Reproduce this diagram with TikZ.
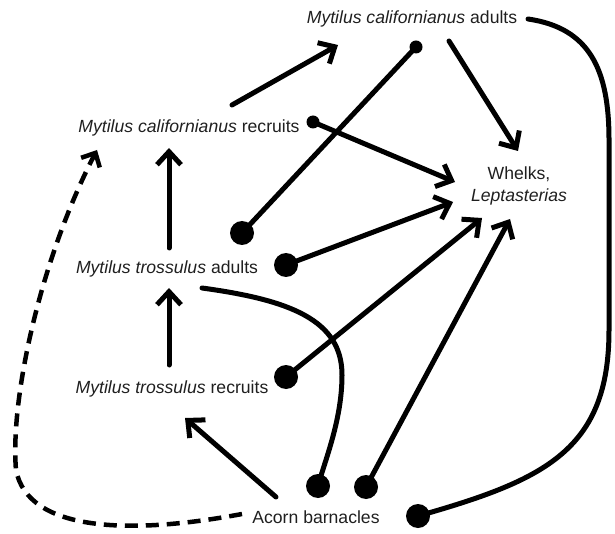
\documentclass[tikz,border=0pt]{standalone}
\usepackage{fontspec}
\setmainfont{Liberation Sans}
\usetikzlibrary{arrows.meta}
\begin{document}
\begin{tikzpicture}[x=1pt,y=-1pt,
  lbl/.style={font=\fontsize{17.6}{22}\selectfont, text=black!88, inner sep=0pt, anchor=base},
  conn/.style={line width=5pt, line cap=round},
  arr/.style={conn, -{Straight Barb[length=13pt,width=24pt,line width=5pt]}},
  bigdot/.style={circle, fill=black, inner sep=0pt, minimum size=24pt},
  smalldot/.style={circle, fill=black, inner sep=0pt, minimum size=13pt},
  dsh/.style={line width=4.5pt, dash pattern=on 13pt off 8pt}]
\useasboundingbox (0,0) rectangle (615,534);
% labels
\node[lbl] (mca) at (412,24) {\textit{Mytilus californianus} adults};
\node[lbl] (mcr) at (189,133) {\textit{Mytilus californianus} recruits};
\node[lbl] (wh1) at (519,180) {Whelks,};
\node[lbl] (wh) at (519,202) {\textit{Leptasterias}};
\node[lbl] (mta) at (167,274) {\textit{Mytilus trossulus} adults};
\node[lbl] (mtr) at (172,393) {\textit{Mytilus trossulus} recruits};
\node[lbl] (ab) at (316,523) {Acorn barnacles};
% dots
\node[smalldot] (d1) at (416,47) {};
\node[bigdot] (d2) at (242,233) {};
\node[smalldot] (d3) at (313,122) {};
\node[bigdot] (d4) at (286,265) {};
\node[bigdot] (d5) at (286,377) {};
\node[bigdot] (d6) at (318,486) {};
\node[bigdot] (d7) at (366,487) {};
\node[bigdot] (d8) at (418,516) {};
% free ends
\coordinate (e1) at (455,182);
\coordinate (e2) at (453,202);
\coordinate (e3) at (482,218);
\coordinate (e4) at (510,219);
\coordinate (mcaS) at (449,41);
\coordinate (whN) at (518,151);
\coordinate (mcrE) at (232,105);
\coordinate (mcaW) at (338,45);
\coordinate (mtaN) at (169,248);
\coordinate (mcrS) at (169,148);
\coordinate (mtrN) at (169,365);
\coordinate (mtaS) at (169,288);
\coordinate (abW) at (276,497);
\coordinate (mtrS) at (185,418);
\coordinate (mtaE) at (202,288);
\coordinate (mcaE) at (528,19);
\coordinate (abL) at (242,514);
\coordinate (mcrSW) at (97,150);
% connectors
\draw[conn] (d1.center) -- (d2.center);
\draw[arr] (d3.center) -- (e1);
\draw[arr] (d4.center) -- (e2);
\draw[arr] (d5.center) -- (e3);
\draw[arr] (d7.center) -- (e4);
\draw[arr] (mcaS) -- (whN);
\draw[arr] (mcrE) -- (mcaW);
\draw[arr] (mtaN) -- (mcrS);
\draw[arr] (mtrN) -- (mtaS);
\draw[arr] (abW) -- (mtrS);
\draw[conn] (mtaE) .. controls (290,300) and (342,320) .. (342,375) .. controls (342,420) and (325,460) .. (d6.center);
\draw[conn] (mcaE) .. controls (590,28) and (609,70) .. (609,140) -- (609,330) .. controls (609,450) and (545,480) .. (d8.center);
\draw[dsh, -{Straight Barb[length=11pt,width=21pt,line width=4.5pt]}] (abL) .. controls (130,535) and (28,532) .. (16,470) .. controls (10,400) and (40,260) .. (mcrSW);
\end{tikzpicture}
\end{document}
